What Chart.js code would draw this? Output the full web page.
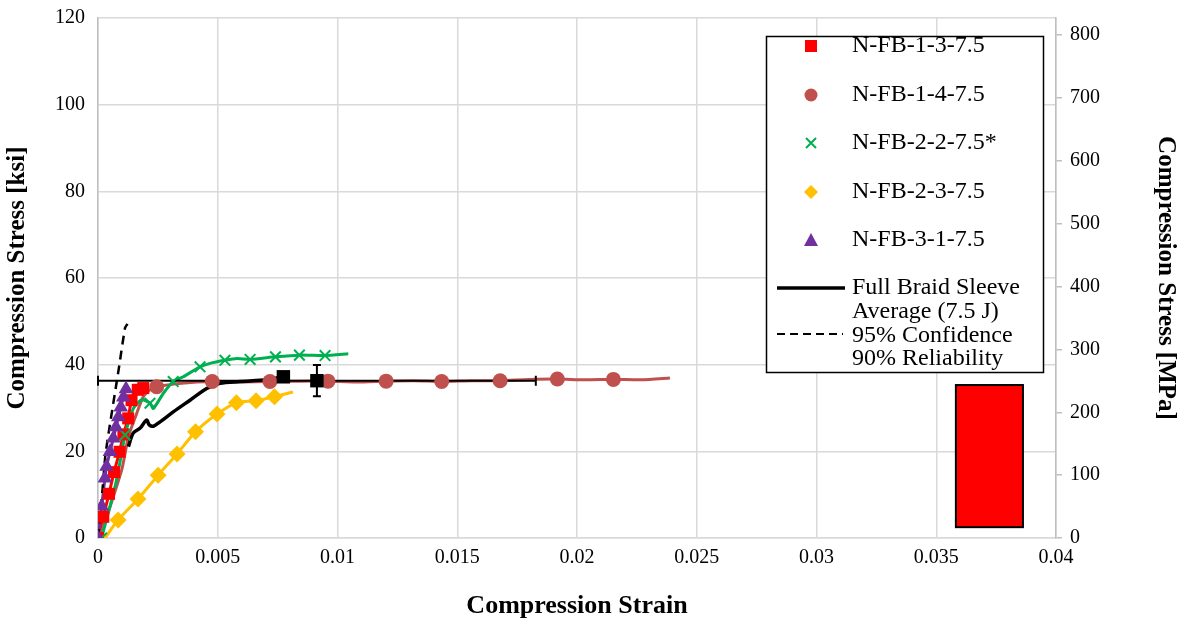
<!DOCTYPE html>
<html>
<head>
<meta charset="utf-8">
<script src="https://cdn.jsdelivr.net/npm/chart.js"></script>
<style>
  html, body { margin: 0; padding: 0; background: #fff; }
</style>
</head>
<body>
<canvas id="stressStrain" width="1184" height="619"></canvas>
<script>
const KSI_TO_MPA = 6.894757;

// N-FB-1-3-7.5 (red squares)
const fb13Strain = [0, 0.00022, 0.00046, 0.00067, 0.0009, 0.00106, 0.00126, 0.0014, 0.00166, 0.00189];
const fb13Stress = [0, 4.9, 10.2, 15.2, 19.9, 23.9, 27.6, 31.8, 34.2, 34.6];
const fb13Marks  = [1, 1, 1, 1, 1, 1, 1, 1, 1, 1];

// N-FB-1-4-7.5 (circles) - marks: 1 = marker shown
const fb14Strain = [0.00008, 0.00099, 0.00127, 0.00162, 0.00189, 0.00224, 0.00245, 0.0035, 0.00477, 0.006, 0.00718, 0.0084, 0.0096, 0.0108, 0.01203, 0.0132, 0.01435, 0.0156, 0.01679, 0.018, 0.01918, 0.0203, 0.02152, 0.0227, 0.02388];
const fb14Stress = [0, 15.7, 23.4, 28.8, 32.6, 34.5, 34.9, 35.7, 36.1, 36.0, 36.1, 36.2, 36.2, 36.0, 36.2, 36.3, 36.1, 36.3, 36.3, 36.6, 36.7, 36.5, 36.6, 36.5, 36.9];
const fb14Marks  = [0, 0, 0, 0, 0, 0, 1, 0, 1, 0, 1, 0, 1, 0, 1, 0, 1, 0, 1, 0, 1, 0, 1, 0, 0];

// N-FB-2-2-7.5* (crosses)
const fb22Strain = [0.00015, 0.00071, 0.00099, 0.00113, 0.00148, 0.00183, 0.00217, 0.00231, 0.00273, 0.00314, 0.00356, 0.00426, 0.00468, 0.0053, 0.0058, 0.00635, 0.00741, 0.00841, 0.00948, 0.01045];
const fb22Stress = [0, 11.8, 19.6, 23.8, 29.9, 31.9, 31.1, 29.9, 33.4, 36.1, 37.2, 39.5, 40.3, 41.0, 41.4, 41.2, 41.8, 42.2, 42.1, 42.5];
const fb22Marks  = [1, 0, 0, 1, 0, 0, 1, 0, 0, 1, 0, 1, 0, 1, 0, 1, 1, 1, 1, 0];

// N-FB-2-3-7.5 (diamonds)
const fb23Strain = [0.00029, 0.00084, 0.00167, 0.00251, 0.0033, 0.00407, 0.00497, 0.00578, 0.0066, 0.00737, 0.00814];
const fb23Stress = [0, 4.15, 9.0, 14.5, 19.4, 24.5, 28.6, 31.2, 31.7, 32.6, 33.7];
const fb23Marks  = [0, 1, 1, 1, 1, 1, 1, 1, 1, 1, 0];

// N-FB-3-1-7.5 (triangles)
const fb31Strain = [0, 0.000155, 0.00029, 0.00036, 0.0005, 0.00064, 0.00075, 0.00085, 0.00095, 0.00106, 0.00117];
const fb31Stress = [0, 7.3, 13.8, 16.5, 19.9, 23.0, 25.6, 27.9, 30.2, 32.5, 34.4];
const fb31Marks  = [1, 1, 1, 1, 1, 1, 1, 1, 1, 1, 1];

// Full braid sleeve average (7.5 J)
const avgStrain = [0.00127, 0.00147, 0.00175, 0.00203, 0.00214, 0.00231, 0.00259, 0.00314, 0.00384, 0.00454, 0.00509, 0.00593, 0.00704, 0.00774];
const avgStress = [21.1, 24.2, 25.3, 27.2, 26.1, 25.8, 26.8, 29.1, 31.8, 34.5, 35.7, 36.1, 36.5, 37.2];
const avgMarks  = [0, 0, 0, 0, 0, 0, 0, 0, 0, 0, 0, 0, 0, 1];

// average failure point with error bars
const failStrain = 0.00914;
const failStress = 36.3;
const failStrainErr = 0.00914;
const failStressErr = 3.6;

// 95% confidence / 90% reliability
const confStrain = [0, 0.00018, 0.00032, 0.00088, 0.00113, 0.00123];
const confStress = [0, 10.6, 19.6, 39.5, 48.5, 49.4];

// red box in lower right (strain / stress extents)
const boxStrain = [0.03582, 0.03862];
const boxStress = [2.5, 35.3];

const xTicks = [0, 0.005, 0.01, 0.015, 0.02, 0.025, 0.03, 0.035, 0.04];
const ksiTicks = [0, 20, 40, 60, 80, 100, 120];
const mpaTicks = [0, 100, 200, 300, 400, 500, 600, 700, 800];

const legendLabels = ['N-FB-1-3-7.5', 'N-FB-1-4-7.5', 'N-FB-2-2-7.5*', 'N-FB-2-3-7.5', 'N-FB-3-1-7.5',
  ['Full Braid Sleeve', 'Average (7.5 J)'], ['95% Confidence', '90% Reliability']];

const pts = (xs, ys) => xs.map((x, i) => ({ x: x, y: ys[i] }));
const FONT = 'Liberation Serif, "Times New Roman", serif';

// like Excel: all lines first, then all markers on top
function lineSet(xs, ys, color, width, order, extra) {
  return Object.assign({
    data: pts(xs, ys), showLine: true, order: order,
    borderColor: color, borderWidth: width, tension: 0.2, pointRadius: 0
  }, extra || {});
}
function markSet(xs, ys, marks, color, style, radius, order) {
  return {
    data: pts(xs, ys).filter((p, i) => marks[i]), showLine: false, order: order,
    pointStyle: style, pointRadius: radius,
    pointBackgroundColor: color, pointBorderColor: color,
    pointBorderWidth: style === 'crossRot' ? 2 : 0
  };
}

const errorBars = {
  id: 'errorBars',
  beforeDatasetsDraw(chart) {
    const { ctx, scales } = chart;
    const x = scales.x, y = scales.y;
    const l = x.getPixelForValue(boxStrain[0]), r = x.getPixelForValue(boxStrain[1]);
    const t = y.getPixelForValue(boxStress[1]), b = y.getPixelForValue(boxStress[0]);
    ctx.save();
    ctx.fillStyle = '#ff0000';
    ctx.fillRect(l, t, r - l, b - t);
    ctx.strokeStyle = '#000';
    ctx.lineWidth = 2;
    ctx.strokeRect(l, t, r - l, b - t);
    ctx.restore();
  },
  afterDatasetDraw(chart, args) {
    if (chart.data.datasets[args.index].id !== 'lastLine') return;
    const { ctx, scales } = chart;
    const x = scales.x, y = scales.y;
    const cx = x.getPixelForValue(failStrain), cy = y.getPixelForValue(failStress);
    const x0 = x.getPixelForValue(failStrain - failStrainErr), x1 = x.getPixelForValue(failStrain + failStrainErr);
    const y0 = y.getPixelForValue(failStress - failStressErr), y1 = y.getPixelForValue(failStress + failStressErr);
    ctx.save();
    ctx.strokeStyle = '#000';
    ctx.lineWidth = 2;
    ctx.beginPath();
    ctx.moveTo(x0, cy); ctx.lineTo(x1, cy);
    ctx.moveTo(x0, cy - 5); ctx.lineTo(x0, cy + 5);
    ctx.moveTo(x1, cy - 5); ctx.lineTo(x1, cy + 5);
    ctx.moveTo(cx, y0); ctx.lineTo(cx, y1);
    ctx.moveTo(cx - 4, y0); ctx.lineTo(cx + 4, y0);
    ctx.moveTo(cx - 4, y1); ctx.lineTo(cx + 4, y1);
    ctx.stroke();
    ctx.restore();
  }
};

const boxLegend = {
  id: 'boxLegend',
  afterDraw(chart) {
    const ctx = chart.ctx;
    ctx.save();
    ctx.fillStyle = '#fff';
    ctx.fillRect(766, 36, 277, 336);
    ctx.strokeStyle = '#000';
    ctx.lineWidth = 1.5;
    ctx.strokeRect(766.5, 36.5, 277, 336);

    const mx = 811;
    const rows = [46, 95, 143, 192, 240];
    ctx.fillStyle = '#ff0000';
    ctx.fillRect(mx - 6, rows[0] - 6, 12, 12);
    ctx.fillStyle = '#c0504d';
    ctx.beginPath(); ctx.arc(mx, rows[1], 6.5, 0, Math.PI * 2); ctx.fill();
    ctx.strokeStyle = '#00b050'; ctx.lineWidth = 2;
    ctx.beginPath();
    ctx.moveTo(mx - 5, rows[2] - 5); ctx.lineTo(mx + 5, rows[2] + 5);
    ctx.moveTo(mx + 5, rows[2] - 5); ctx.lineTo(mx - 5, rows[2] + 5);
    ctx.stroke();
    ctx.fillStyle = '#ffc000';
    ctx.beginPath();
    ctx.moveTo(mx, rows[3] - 7); ctx.lineTo(mx + 7, rows[3]); ctx.lineTo(mx, rows[3] + 7); ctx.lineTo(mx - 7, rows[3]);
    ctx.closePath(); ctx.fill();
    ctx.fillStyle = '#7030a0';
    ctx.beginPath();
    ctx.moveTo(mx, rows[4] - 7); ctx.lineTo(mx + 7, rows[4] + 6); ctx.lineTo(mx - 7, rows[4] + 6);
    ctx.closePath(); ctx.fill();
    ctx.strokeStyle = '#000'; ctx.lineWidth = 3.5;
    ctx.beginPath(); ctx.moveTo(777, 288); ctx.lineTo(845, 288); ctx.stroke();
    ctx.lineWidth = 2; ctx.setLineDash([8, 5]);
    ctx.beginPath(); ctx.moveTo(777, 334); ctx.lineTo(843, 334); ctx.stroke();
    ctx.setLineDash([]);

    ctx.fillStyle = '#000';
    ctx.font = '24px ' + FONT;
    ctx.textBaseline = 'middle';
    ctx.textAlign = 'left';
    for (let i = 0; i < 5; i++) ctx.fillText(legendLabels[i], 852, rows[i]);
    ctx.fillText(legendLabels[5][0], 852, 288);
    ctx.fillText(legendLabels[5][1], 852, 312);
    ctx.fillText(legendLabels[6][0], 852, 336);
    ctx.fillText(legendLabels[6][1], 852, 359);
    ctx.restore();
  }
};

const noVertPad = s => { s.paddingTop = 0; s.paddingBottom = 0; };

new Chart(document.getElementById('stressStrain'), {
  type: 'scatter',
  data: {
    datasets: [
      lineSet(fb13Strain, fb13Stress, '#ff0000', 3, 27),
      lineSet(fb14Strain, fb14Stress, '#c0504d', 3, 26),
      lineSet(fb22Strain, fb22Stress, '#00b050', 3, 25),
      lineSet(fb23Strain, fb23Stress, '#ffc000', 3, 24, { tension: 0.3 }),
      lineSet(fb31Strain, fb31Stress, '#7030a0', 3, 23),
      lineSet(avgStrain, avgStress, '#000', 3.5, 22, { tension: 0.3 }),
      lineSet(confStrain, confStress, '#000', 2.5, 21, { id: 'lastLine', borderDash: [9, 6] }),
      markSet(fb13Strain, fb13Stress, fb13Marks, '#ff0000', 'rect', 8.5, 9),
      markSet(fb14Strain, fb14Stress, fb14Marks, '#c0504d', 'circle', 7.5, 8),
      markSet(fb22Strain, fb22Stress, fb22Marks, '#00b050', 'crossRot', 7.5, 7),
      markSet(fb23Strain, fb23Stress, fb23Marks, '#ffc000', 'rectRot', 8.5, 6),
      markSet(fb31Strain, fb31Stress, fb31Marks, '#7030a0', 'triangle', 8.5, 5),
      markSet(avgStrain, avgStress, avgMarks, '#000', 'rect', 9.5, 4),
      markSet([failStrain], [failStress], [1], '#000', 'rect', 9.5, 3)
    ]
  },
  options: {
    responsive: false,
    animation: false,
    layout: { padding: { top: 18 } },
    plugins: { legend: { display: false }, tooltip: { enabled: false } },
    scales: {
      x: {
        type: 'linear', min: 0, max: 0.04,
        afterFit: s => { s.height = 81; s.paddingLeft = 0; s.paddingRight = 0; },
        afterBuildTicks: s => { s.ticks = xTicks.map(v => ({ value: v })); },
        grid: { color: '#d9d9d9', lineWidth: 1.5, drawTicks: false },
        border: { color: '#d9d9d9', width: 1.5 },
        ticks: {
          padding: 8, color: '#000', font: { family: FONT, size: 20 },
          callback: v => v === 0 ? '0' : String(parseFloat(v.toFixed(3)))
        },
        title: { display: true, text: 'Compression Strain', color: '#000', padding: { top: 0, bottom: -3 },
          font: { family: FONT, size: 26, weight: 'bold' } }
      },
      y: {
        position: 'left', min: 0, max: 120,
        afterFit: s => { s.width = 98; noVertPad(s); },
        afterBuildTicks: s => { s.ticks = ksiTicks.map(v => ({ value: v })); },
        grid: { color: '#d9d9d9', lineWidth: 1.5, drawTicks: false },
        border: { color: '#bfbfbf', width: 1.5 },
        ticks: { padding: 13, color: '#000', font: { family: FONT, size: 20 } },
        title: { display: true, text: 'Compression Stress [ksi]', color: '#000', padding: { top: 3, bottom: 0 },
          font: { family: FONT, size: 25, weight: 'bold' } }
      },
      y2: {
        position: 'right', min: 0, max: 120 * KSI_TO_MPA,
        afterFit: s => { s.width = 128; noVertPad(s); },
        afterBuildTicks: s => { s.ticks = mpaTicks.map(v => ({ value: v })); },
        grid: { drawOnChartArea: false, color: '#bfbfbf', lineWidth: 1.5, tickLength: 6 },
        border: { color: '#bfbfbf', width: 1.5 },
        ticks: { padding: 8, color: '#000', font: { family: FONT, size: 20 } },
        title: { display: true, text: 'Compression Stress [MPa]', color: '#000', padding: { top: 4, bottom: 0 },
          font: { family: FONT, size: 25, weight: 'bold' } }
      }
    }
  },
  plugins: [errorBars, boxLegend]
});
</script>
</body>
</html>
